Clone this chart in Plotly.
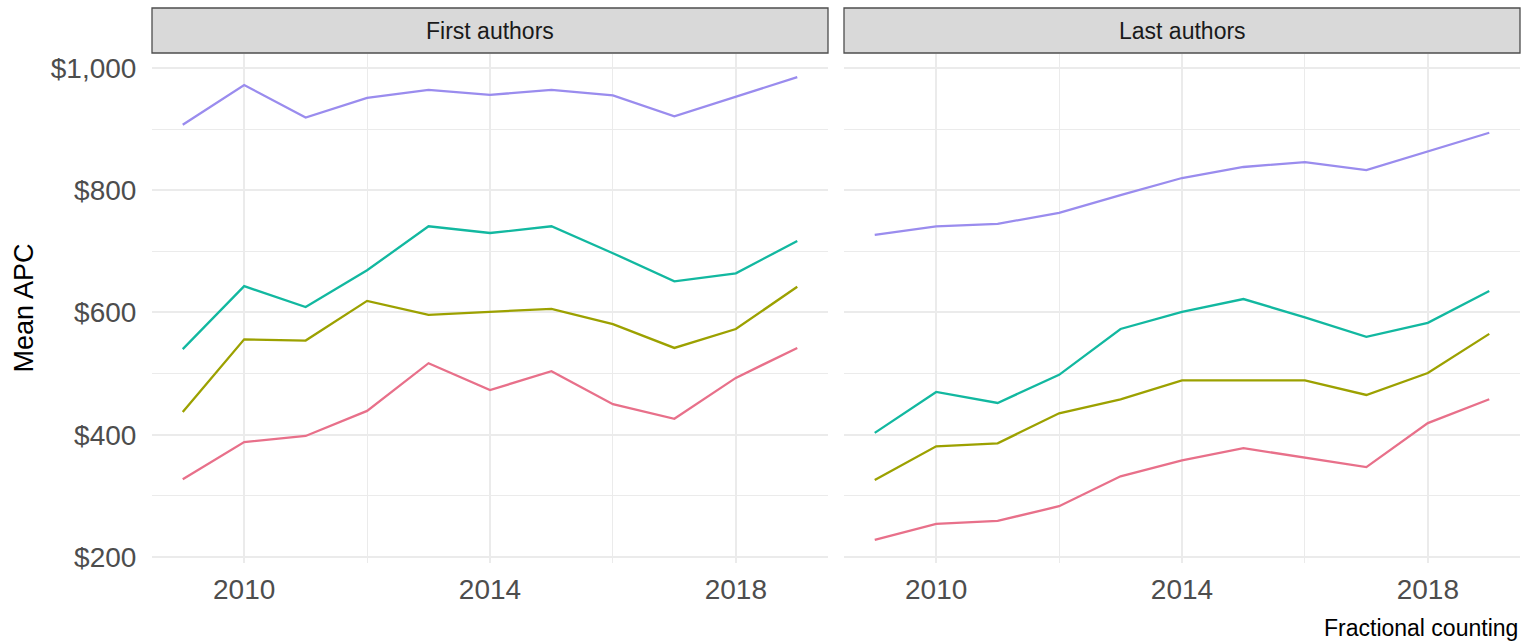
import plotly.graph_objects as go

# Publication years shown on the x axis
years = [2009, 2010, 2011, 2012, 2013, 2014, 2015, 2016, 2017, 2018, 2019]

# Facet labels
panels = ["First authors", "Last authors"]

# Mean APC per group (USD), first-author panel
first_purple = [907, 972, 919, 951, 964, 956, 964, 955, 921, 953, 985]
first_teal = [540, 643, 609, 669, 741, 730, 741, 697, 651, 664, 717]
first_olive = [437, 556, 554, 619, 596, 601, 606, 581, 542, 573, 642]
first_pink = [327, 388, 398, 439, 517, 473, 504, 450, 426, 493, 542]

# Mean APC per group (USD), last-author panel
last_purple = [727, 741, 745, 763, 792, 820, 838, 846, 833, 864, 894]
last_teal = [403, 470, 452, 498, 573, 601, 622, 592, 560, 583, 635]
last_olive = [326, 381, 386, 435, 458, 489, 489, 489, 465, 501, 565]
last_pink = [228, 254, 259, 283, 332, 358, 378, 363, 347, 419, 458]

# Axis ticks
x_ticks = [2010, 2014, 2018]
x_minor = [2012, 2016]
y_ticks = [200, 400, 600, 800, 1000]
y_tick_text = ["$200", "$400", "$600", "$800", "$1,000"]
y_minor = [300, 500, 700, 900]

caption = "Fractional counting"
y_title = "Mean APC"

colors = ["#E8708A", "#9CA100", "#12B8A0", "#9A8CEE"]

fig = go.Figure()

panel_series = [
    [first_pink, first_olive, first_teal, first_purple],
    [last_pink, last_olive, last_teal, last_purple],
]

for p, series in enumerate(panel_series):
    xa = "x" if p == 0 else "x2"
    ya = "y" if p == 0 else "y2"
    for vals, col in zip(series, colors):
        fig.add_trace(go.Scatter(
            x=years, y=vals, mode="lines",
            line=dict(color=col, width=2.3),
            xaxis=xa, yaxis=ya, showlegend=False, hoverinfo="x+y",
        ))

# 5% expansion on both axes, as in the original plotting defaults
all_vals = [v for s in panel_series for ser in s for v in ser]
lo, hi = min(all_vals), max(all_vals)
pad = 0.05 * (hi - lo)
y_range = [lo - pad, hi + pad]
xpad = 0.05 * (years[-1] - years[0])
x_range = [years[0] - xpad, years[-1] + xpad]

W, H = 1522, 642
m_l, m_r, m_t, m_b = 152, 2, 54, 79
plot_w = W - m_l - m_r
plot_h = H - m_t - m_b
gap_px = 16
left_end = (plot_w - gap_px) / 2 / plot_w
right_start = 1 - left_end

grid_major = "#EBEBEB"
tick_font = dict(family="Liberation Sans, Arial, sans-serif", size=28, color="#4D4D4D")

xaxis_common = dict(
    range=x_range, tickvals=x_ticks, showgrid=True, gridcolor=grid_major, gridwidth=2.3,
    zeroline=False, showline=False, ticks="outside", ticklen=1,
    tickcolor="rgba(0,0,0,0)", tickfont=tick_font,
    minor=dict(tickvals=x_minor, showgrid=True, gridcolor=grid_major, gridwidth=1.3, ticks=""),
)
yaxis_common = dict(
    range=y_range, tickvals=y_ticks, showgrid=True, gridcolor=grid_major, gridwidth=2.3,
    zeroline=False, showline=False,
    minor=dict(tickvals=y_minor, showgrid=True, gridcolor=grid_major, gridwidth=1.3, ticks=""),
)

fig.update_layout(
    width=W, height=H,
    margin=dict(l=m_l, r=m_r, t=m_t, b=m_b),
    paper_bgcolor="white", plot_bgcolor="white",
    font=dict(family="Liberation Sans, Arial, sans-serif"),
    xaxis=dict(domain=[0, left_end], anchor="y", **xaxis_common),
    xaxis2=dict(domain=[right_start, 1], anchor="y2", **xaxis_common),
    yaxis=dict(domain=[0, 1], anchor="x", ticktext=y_tick_text, tickfont=tick_font,
               ticks="outside", ticklen=9, tickcolor="rgba(0,0,0,0)", **yaxis_common),
    yaxis2=dict(domain=[0, 1], anchor="x2", showticklabels=False, **yaxis_common),
)

# Facet strips
def py(pix):
    return (H - m_b - pix) / plot_h

for i, name in enumerate(panels):
    xr = "x domain" if i == 0 else "x2 domain"
    fig.add_shape(type="rect", xref=xr, yref="paper", x0=0, x1=1,
                  y0=py(53), y1=py(8), fillcolor="#D9D9D9",
                  line=dict(color="#4D4D4D", width=1.3), layer="above")
    fig.add_annotation(xref=xr, yref="paper", x=0.5, y=py(30.5), text=name,
                       showarrow=False, xanchor="center", yanchor="middle",
                       font=dict(size=23, color="#1A1A1A"))

fig.add_annotation(xref="paper", yref="paper", x=(23 - m_l) / plot_w, y=0.5,
                   text=y_title, textangle=-90, showarrow=False,
                   xanchor="center", yanchor="middle",
                   font=dict(size=27, color="black"))

fig.add_annotation(xref="paper", yref="paper", x=(1520 - m_l) / plot_w, y=py(628),
                   text=caption, showarrow=False, xanchor="right", yanchor="middle",
                   font=dict(size=23, color="black"))

fig.write_html("out.html")
